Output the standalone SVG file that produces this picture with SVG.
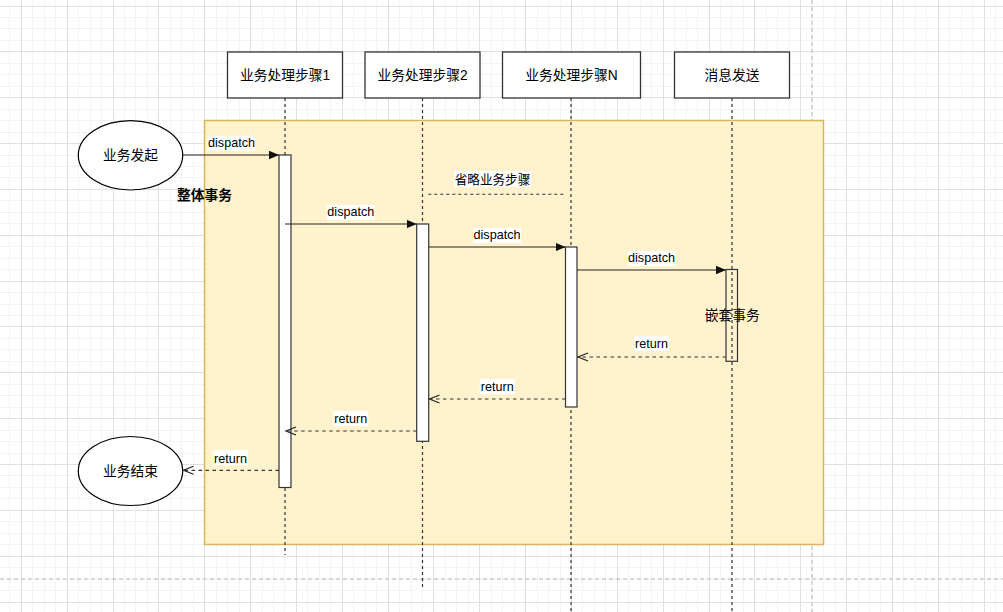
<svg xmlns="http://www.w3.org/2000/svg" width="1003" height="612" viewBox="0 0 1003 612">
<defs>
<style>
text{font-family:"Liberation Sans","Noto Sans CJK SC",sans-serif;fill:#000}
.h{font-size:13.75px;text-anchor:middle}
.l{font-size:12.6px;text-anchor:middle}
.b{font-weight:bold}
.hd{fill:#fff;stroke:#333;stroke-width:1.3}
.life{fill:none;stroke:#333;stroke-width:1.2;stroke-dasharray:3 3}
.bar{fill:#fff;stroke:#333;stroke-width:1.2}
.call{fill:none;stroke:#222;stroke-width:1.2;marker-end:url(#blk)}
.ret{fill:none;stroke:#333;stroke-width:1.2;stroke-dasharray:3.5 3.5;marker-end:url(#opn)}
.lbg{fill:#fff}
</style>
<marker id="blk" viewBox="0 0 10 8.6" refX="10" refY="4.3" markerWidth="10" markerHeight="8.6" markerUnits="userSpaceOnUse" orient="auto">
<path d="M0 0L10 4.3L0 8.6z" fill="#111"/>
</marker>
<marker id="opn" viewBox="-1 -1 12 10" refX="10" refY="4" markerWidth="12" markerHeight="10" markerUnits="userSpaceOnUse" orient="auto" overflow="visible">
<path d="M0 0L10 4L0 8" fill="none" stroke="#222" stroke-width="1.2" stroke-dasharray="none"/>
</marker>
</defs>
<rect width="1003" height="612" fill="#fff"/>
<g id="grid" fill="none">
<path stroke="#f3f3f3" stroke-width="1" d="M9.5 0V612M32.5 0V612M44.5 0V612M55.5 0V612M78.5 0V612M90.5 0V612M101.5 0V612M124.5 0V612M135.5 0V612M147.5 0V612M170.5 0V612M181.5 0V612M193.5 0V612M216.5 0V612M227.5 0V612M239.5 0V612M262.5 0V612M273.5 0V612M284.5 0V612M307.5 0V612M319.5 0V612M330.5 0V612M353.5 0V612M365.5 0V612M376.5 0V612M399.5 0V612M411.5 0V612M422.5 0V612M445.5 0V612M456.5 0V612M468.5 0V612M491.5 0V612M502.5 0V612M514.5 0V612M537.5 0V612M548.5 0V612M560.5 0V612M582.5 0V612M594.5 0V612M605.5 0V612M628.5 0V612M640.5 0V612M651.5 0V612M674.5 0V612M686.5 0V612M697.5 0V612M720.5 0V612M731.5 0V612M743.5 0V612M766.5 0V612M777.5 0V612M789.5 0V612M812.5 0V612M823.5 0V612M835.5 0V612M858.5 0V612M869.5 0V612M880.5 0V612M903.5 0V612M915.5 0V612M926.5 0V612M949.5 0V612M961.5 0V612M972.5 0V612M995.5 0V612M0 17.5H1003M0 28.5H1003M0 40.5H1003M0 63.5H1003M0 74.5H1003M0 86.5H1003M0 109.5H1003M0 120.5H1003M0 132.5H1003M0 155.5H1003M0 166.5H1003M0 177.5H1003M0 200.5H1003M0 212.5H1003M0 223.5H1003M0 246.5H1003M0 258.5H1003M0 269.5H1003M0 292.5H1003M0 304.5H1003M0 315.5H1003M0 338.5H1003M0 349.5H1003M0 361.5H1003M0 384.5H1003M0 395.5H1003M0 407.5H1003M0 430.5H1003M0 441.5H1003M0 453.5H1003M0 475.5H1003M0 487.5H1003M0 498.5H1003M0 521.5H1003M0 533.5H1003M0 544.5H1003M0 567.5H1003M0 579.5H1003M0 590.5H1003"/>
<path stroke="#e0e0e0" stroke-width="1" d="M21.5 0V612M67.5 0V612M113.5 0V612M158.5 0V612M204.5 0V612M250.5 0V612M296.5 0V612M342.5 0V612M388.5 0V612M433.5 0V612M479.5 0V612M525.5 0V612M571.5 0V612M617.5 0V612M663.5 0V612M709.5 0V612M754.5 0V612M800.5 0V612M846.5 0V612M892.5 0V612M938.5 0V612M984.5 0V612M0 6.5H1003M0 51.5H1003M0 97.5H1003M0 143.5H1003M0 189.5H1003M0 235.5H1003M0 281.5H1003M0 326.5H1003M0 372.5H1003M0 418.5H1003M0 464.5H1003M0 510.5H1003M0 556.5H1003M0 602.5H1003"/>
<path stroke="#cccccc" stroke-width="1.5" stroke-dasharray="4 3" d="M812 0V612M0 579H1003"/>
</g>
<g id="container">
<rect x="204.5" y="120.5" width="619" height="424" fill="#fff2cc" stroke="#d6b656" stroke-width="1.5"/>
<text class="h b" x="204.5" y="199.5">整体事务</text>
</g>
<g id="lifeline1">
<line class="life" x1="285" y1="98" x2="285" y2="555"/>
<rect class="hd" x="227.5" y="52" width="115" height="46"/>
<text class="h" x="285" y="79.8">业务处理步骤1</text>
</g>
<g id="lifeline2">
<line class="life" x1="422.5" y1="98" x2="422.5" y2="590"/>
<rect class="hd" x="365" y="52" width="115" height="46"/>
<text class="h" x="422.5" y="79.8">业务处理步骤2</text>
</g>
<g id="lifelineN">
<line class="life" x1="571" y1="98" x2="571" y2="612"/>
<rect class="hd" x="502.5" y="52" width="138" height="46"/>
<text class="h" x="571.5" y="79.8">业务处理步骤N</text>
</g>
<g id="lifeline4">
<line class="life" x1="732" y1="98" x2="732" y2="612"/>
<rect class="hd" x="674.5" y="52" width="115" height="46"/>
<text class="h" x="732" y="79.8">消息发送</text>
</g>
<g id="start">
<ellipse cx="130.5" cy="155.3" rx="52.2" ry="34.7" fill="#fff" stroke="#000" stroke-width="1.2"/>
<text class="h" x="130.5" y="159.8">业务发起</text>
</g>
<g id="end">
<ellipse cx="130.5" cy="471" rx="52.2" ry="34.5" fill="#fff" stroke="#000" stroke-width="1.2"/>
<text class="h" x="130.5" y="475.5">业务结束</text>
</g>
<g id="bar1"><rect class="bar" x="279" y="155" width="12" height="332.5"/></g>
<g id="bar2"><rect class="bar" x="416.7" y="224" width="12" height="217.3"/></g>
<g id="barN"><rect class="bar" x="565.5" y="247" width="11.5" height="160"/></g>
<g id="nested">
<rect x="726" y="269.5" width="11.5" height="91.8" fill="none" stroke="#333" stroke-width="1.2"/>
<text class="h" x="732.3" y="319.5">嵌套事务</text>
</g>
<g id="connectors">
<line class="call" x1="183" y1="155" x2="279" y2="155"/>
<line class="call" x1="285" y1="224" x2="416.7" y2="224"/>
<line class="call" x1="428.7" y1="247" x2="565.5" y2="247"/>
<line class="call" x1="577" y1="270" x2="726" y2="270"/>
<line class="ret" x1="726" y1="357" x2="578" y2="357"/>
<line class="ret" x1="565.5" y1="399" x2="429.5" y2="399"/>
<line class="ret" x1="416.7" y1="431" x2="286" y2="431"/>
<line class="ret" x1="279" y1="470.3" x2="183.5" y2="470.3"/>
<line x1="428.3" y1="194.3" x2="563.3" y2="194.3" stroke="#333" stroke-width="1.1" stroke-dasharray="3 3"/>
<rect class="lbg" x="454" y="171" width="77" height="16"/>
<text class="l" x="492.5" y="183.8">省略业务步骤</text>
<rect class="lbg" x="207.5" y="136" width="48" height="15"/>
<text class="l" x="231.5" y="146.7">dispatch</text>
<rect class="lbg" x="326.8" y="205" width="48" height="15"/>
<text class="l" x="350.8" y="215.6">dispatch</text>
<rect class="lbg" x="473" y="228" width="48" height="15"/>
<text class="l" x="497" y="238.6">dispatch</text>
<rect class="lbg" x="627.5" y="251" width="48" height="15"/>
<text class="l" x="651.5" y="261.6">dispatch</text>
<rect class="lbg" x="634" y="336" width="35" height="15"/>
<text class="l" x="651.5" y="348.3">return</text>
<rect class="lbg" x="479.7" y="379" width="35" height="15"/>
<text class="l" x="497.2" y="391.2">return</text>
<rect class="lbg" x="333.3" y="411" width="35" height="15"/>
<text class="l" x="350.8" y="423.2">return</text>
<rect class="lbg" x="213" y="450" width="35" height="15"/>
<text class="l" x="230.5" y="462.5">return</text>
</g>
</svg>
